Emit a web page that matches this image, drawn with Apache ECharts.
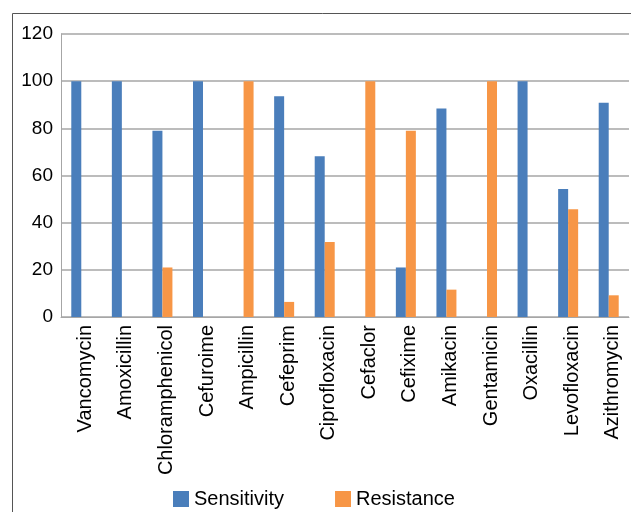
<!DOCTYPE html>
<html>
<head>
<meta charset="utf-8">
<script src="https://cdn.jsdelivr.net/npm/echarts@6/dist/echarts.min.js"></script>
<style>
html,body{margin:0;padding:0;background:#fff;}
#c{width:631px;height:512px;}
</style>
</head>
<body>
<div id="c"></div>
<script>
const categories = ["Vancomycin","Amoxicillin","Chloramphenicol","Cefuroime","Ampicillin","Cefeprim","Ciprofloxacin","Cefaclor","Cefixime","Amikacin","Gentamicin","Oxacillin","Levofloxacin","Azithromycin"];
const sensitivity = [100,100,79,100,0,93.6,68.2,0,21,88.4,0,100,54.3,90.8];
const resistance = [0,0,21,0,100,6.4,31.8,100,79,11.6,100,0,45.7,9.2];
const yTicks = [0,20,40,60,80,100,120];

const chart = echarts.init(document.getElementById('c'), null, {renderer:'canvas'});
const font = '"Liberation Sans", Arial, sans-serif';
chart.setOption({
  animation:false,
  textStyle:{fontFamily:font},
  graphic:[{
    type:'rect', left:10, top:11, shape:{width:700, height:600},
    style:{fill:'none', stroke:'#555', lineWidth:1}, z:-1
  }],
  grid:{left:61, right:2, top:34, bottom:195, containLabel:false},
  legend:{
    left:173, top:489, padding:0, itemWidth:16, itemHeight:16, itemGap:51,
    icon:'rect',
    textStyle:{fontSize:20, color:'#000', fontFamily:font, padding:[2,0,0,0]},
    data:['Sensitivity','Resistance']
  },
  xAxis:{
    type:'category', data:categories,
    axisLine:{lineStyle:{color:'#a6a6a6', width:1}},
    axisTick:{show:false},
    axisLabel:{rotate:90, color:'#000', margin:8, interval:0, fontFamily:font,
      formatter: v => '{a|' + v + '}',
      rich:{a:{fontSize:20, color:'#000', fontFamily:font, padding:[8,0,0,0]}}
    }
  },
  yAxis:{
    type:'value', min:yTicks[0], max:yTicks[yTicks.length-1], interval:20,
    axisLine:{show:true, lineStyle:{color:'#a6a6a6', width:1}},
    axisTick:{show:false},
    splitLine:{lineStyle:{color:'#a6a6a6', width:1.5}},
    axisLabel:{fontSize:19, color:'#000', margin:8, fontFamily:font}
  },
  series:[
    {name:'Sensitivity', type:'bar', data:sensitivity, barWidth:10, barGap:'0%', itemStyle:{color:'#4a7ebb'}},
    {name:'Resistance', type:'bar', data:resistance, barWidth:10, barGap:'0%', itemStyle:{color:'#f79646'}}
  ]
});
</script>
</body>
</html>
